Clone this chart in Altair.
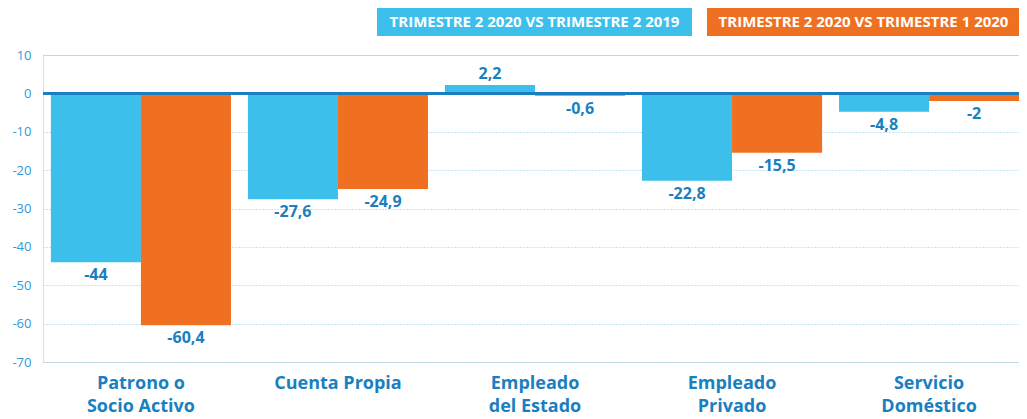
import altair as alt
import pandas as pd

categories = ["Patrono o|Socio Activo", "Cuenta Propia", "Empleado|del Estado",
              "Empleado|Privado", "Servicio|Doméstico"]
series = ["TRIMESTRE 2 2020 VS TRIMESTRE 2 2019", "TRIMESTRE 2 2020 VS TRIMESTRE 1 2020"]
vs_q2_2019 = [-44, -27.6, 2.2, -22.8, -4.8]
vs_q1_2020 = [-60.4, -24.9, -0.6, -15.5, -2]
colors = ["#3dbfeb", "#f07022"]
y_ticks = [10, 0, -10, -20, -30, -40, -50, -60, -70]

rows = []
for s, vals in zip(series, [vs_q2_2019, vs_q1_2020]):
    for c, v in zip(categories, vals):
        rows.append({"cat": c, "series": s, "value": v,
                     "label": (f"{v:g}").replace(".", ",")})
df = pd.DataFrame(rows)

FONT = "Open Sans"
LABEL_BLUE = "#1a7fc1"

y_axis = alt.Axis(values=y_ticks, domain=False, ticks=False, labelFontSize=13,
                  labelColor="#2e9ad8", labelPadding=12, labelFont=FONT,
                  labelOverlap=False, labelExpr="'' + datum.value",
                  grid=True, gridDash=[1, 2], gridColor="#8fcdef", gridWidth=1)
y_scale = alt.Scale(domain=[-70, 10], nice=False)

base = alt.Chart(df).encode(
    x=alt.X("cat:N", sort=categories, title=None,
            scale=alt.Scale(paddingInner=0.086, paddingOuter=0.04, range=[0, 984]),
            axis=alt.Axis(labelExpr="split(datum.label, '|')", labelAngle=0,
                          labelFontSize=18, labelFontWeight="bold", labelColor=LABEL_BLUE,
                          labelLineHeight=23, labelPadding=12, domain=False, ticks=False,
                          grid=False, labelFont=FONT)),
    xOffset=alt.XOffset("series:N", sort=series, scale=alt.Scale(paddingInner=0, paddingOuter=0)),
    y=alt.Y("value:Q", title=None, scale=y_scale, axis=y_axis),
)

bars = base.mark_bar().encode(
    color=alt.Color("series:N", scale=alt.Scale(domain=series, range=colors), legend=None),
)

text_neg = base.transform_filter("datum.value < 0").mark_text(
    baseline="top", dy=5, fontSize=16, fontWeight="bold", color=LABEL_BLUE, font=FONT
).encode(text="label:N")

text_pos = base.transform_filter("datum.value >= 0").mark_text(
    baseline="bottom", dy=-3, fontSize=16, fontWeight="bold", color=LABEL_BLUE, font=FONT
).encode(text="label:N")

zero = alt.Chart(pd.DataFrame({"value": [0]})).mark_rule(
    color=LABEL_BLUE, strokeWidth=3).encode(
    y=alt.Y("value:Q", title=None, scale=y_scale, axis=y_axis))

legend_layers = []
boxes = [(334, 649), (664, 977)]
for s, col, (x0, x1) in zip(series, colors, boxes):
    ld = pd.DataFrame({"series": [s]})
    legend_layers.append(
        alt.Chart(ld).mark_rect(color=col).encode(
            x=alt.value(x0), x2=alt.value(x1), y=alt.value(-47), y2=alt.value(-19)))
    legend_layers.append(
        alt.Chart(ld).mark_text(color="white", fontSize=15, fontWeight="bold", font=FONT,
                                align="center", baseline="middle").encode(
            x=alt.value((x0 + x1) / 2), y=alt.value(-33), text="series:N"))

chart = alt.layer(bars, zero, text_neg, text_pos, *legend_layers).properties(
    width=976, height=307,
    autosize=alt.AutoSizeParams(type="none"),
    padding={"left": 35, "top": 47, "right": 0, "bottom": 56},
).configure_view(stroke=None).configure(font=FONT)

chart.save("out.html", embed_options={"renderer": "svg", "actions": False})
